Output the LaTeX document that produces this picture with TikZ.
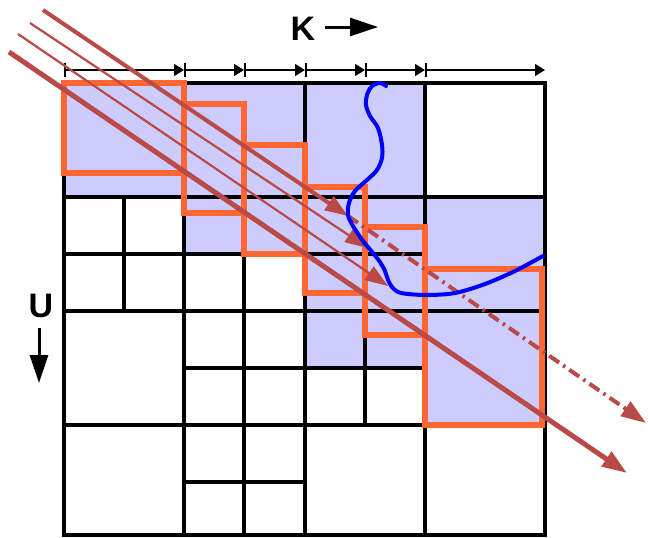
\documentclass[tikz,border=0pt]{standalone}
\usepackage{fontspec}
\setmainfont{Liberation Sans}
\usetikzlibrary{arrows.meta}
\definecolor{lav}{RGB}{204,204,255}
\definecolor{orng}{RGB}{255,102,51}
\definecolor{brick}{RGB}{185,74,72}
\definecolor{crv}{RGB}{0,0,255}
\begin{document}
\begin{tikzpicture}[x=1pt,y=-1pt,
  gridline/.style={line width=3.8pt,line cap=rect},
  obox/.style={draw=orng,line width=5.5pt,line join=miter},
  dimseg/.style={line width=1.3pt,{Bar[width=14pt,line width=1.5pt]}-{Triangle[length=10pt,width=12pt]}},
  lbl/.style={font=\bfseries\fontsize{34}{34}\selectfont,inner sep=0pt},
  bigarrow/.style={line width=3pt,-{Triangle[length=28pt,width=18pt]}},
  rthick/.style={draw=brick,line width=4pt},
  rthin/.style={draw=brick,line width=2.2pt},
  rfat/.style={draw=brick,line width=5pt},
  midtip/.style={-{Triangle[length=23pt,width=16pt,fill=brick]}},
  endtip/.style={-{Triangle[length=25pt,width=17pt,fill=brick]}},
  dashdot/.style={dash pattern=on 12pt off 5pt on 2.5pt off 5pt},
  curve/.style={draw=crv,line width=4pt,line cap=round,line join=round}]
\useasboundingbox (0,0) rectangle (649,538);

% blue (near-field) blocks
\fill[lav] (64,83) rectangle (425,197);
\fill[lav] (184,197) rectangle (305,254);
\fill[lav] (305,197) rectangle (545,368);
\fill[lav] (425,368) rectangle (545,425);

% block grid
\draw[gridline]
  (64,197)--(545,197) (64,254)--(425,254) (64,311)--(545,311)
  (184,368)--(425,368) (64,425)--(545,425) (184,482)--(305,482)
  (124,197)--(124,311) (184,83)--(184,535) (244,197)--(244,535)
  (305,83)--(305,535) (365,197)--(365,425) (425,83)--(425,535);
\draw[gridline,line join=miter] (64,83) rectangle (545,535);

% orange staircase boxes
\draw[obox] (64,83) rectangle (184,173);
\draw[obox] (184,104) rectangle (244,213);
\draw[obox] (244,145) rectangle (305,254);
\draw[obox] (305,187) rectangle (365,293);
\draw[obox] (365,227) rectangle (425,335);
\draw[obox] (425,269) rectangle (542,425);

% dimension line
\coordinate (d0) at (64,70);
\coordinate (d1) at (184,70);
\coordinate (d2) at (244,70);
\coordinate (d3) at (305,70);
\coordinate (d4) at (365,70);
\coordinate (d5) at (425,70);
\coordinate (d6) at (545,70);
\draw[dimseg] (d0) -- (d1);
\draw[dimseg] (d1) -- (d2);
\draw[dimseg] (d2) -- (d3);
\draw[dimseg] (d3) -- (d4);
\draw[dimseg] (d4) -- (d5);
\draw[dimseg] (d5) -- (d6);

% axis labels
\node[lbl] (K) at (303,28.5) {K};
\coordinate (Ka) at (325,27);
\coordinate (Kb) at (378,27);
\draw[bigarrow] (Ka) -- (Kb);
\node[lbl] (U) at (41,305.5) {U};
\coordinate (Ua) at (39,328);
\coordinate (Ub) at (39,383);
\draw[bigarrow] (Ua) -- (Ub);

% red lines
\coordinate (a1) at (43,10);
\coordinate (m1) at (348,216);
\coordinate (e1) at (646,423);
\coordinate (a2) at (30,23);
\coordinate (e2) at (368,248);
\coordinate (a3) at (18,34);
\coordinate (e3) at (388,286);
\coordinate (a4) at (9,52);
\coordinate (e4) at (627,473);
\draw[rthick,midtip] (a1) -- (m1);
\draw[rthick,dashdot,endtip] (m1) -- (e1);
\draw[rthin,midtip] (a2) -- (e2);
\draw[rthin,midtip] (a3) -- (e3);
\draw[rfat,endtip] (a4) -- (e4);

% blue curve
\draw[curve] plot[smooth,tension=0.55] coordinates {
  (386,86) (380,83) (372,86) (367,95) (366,105) (370,116) (378,128)
  (382,145) (382,158) (377,170) (367,180) (355,191) (349,203) (348,215)
  (353,226) (363,241) (373,253) (380,262) (385,271) (388,280) (392,287)
  (398,292) (408,294) (428,295) (455,293) (485,284) (515,271) (543,256)};
\end{tikzpicture}
\end{document}
